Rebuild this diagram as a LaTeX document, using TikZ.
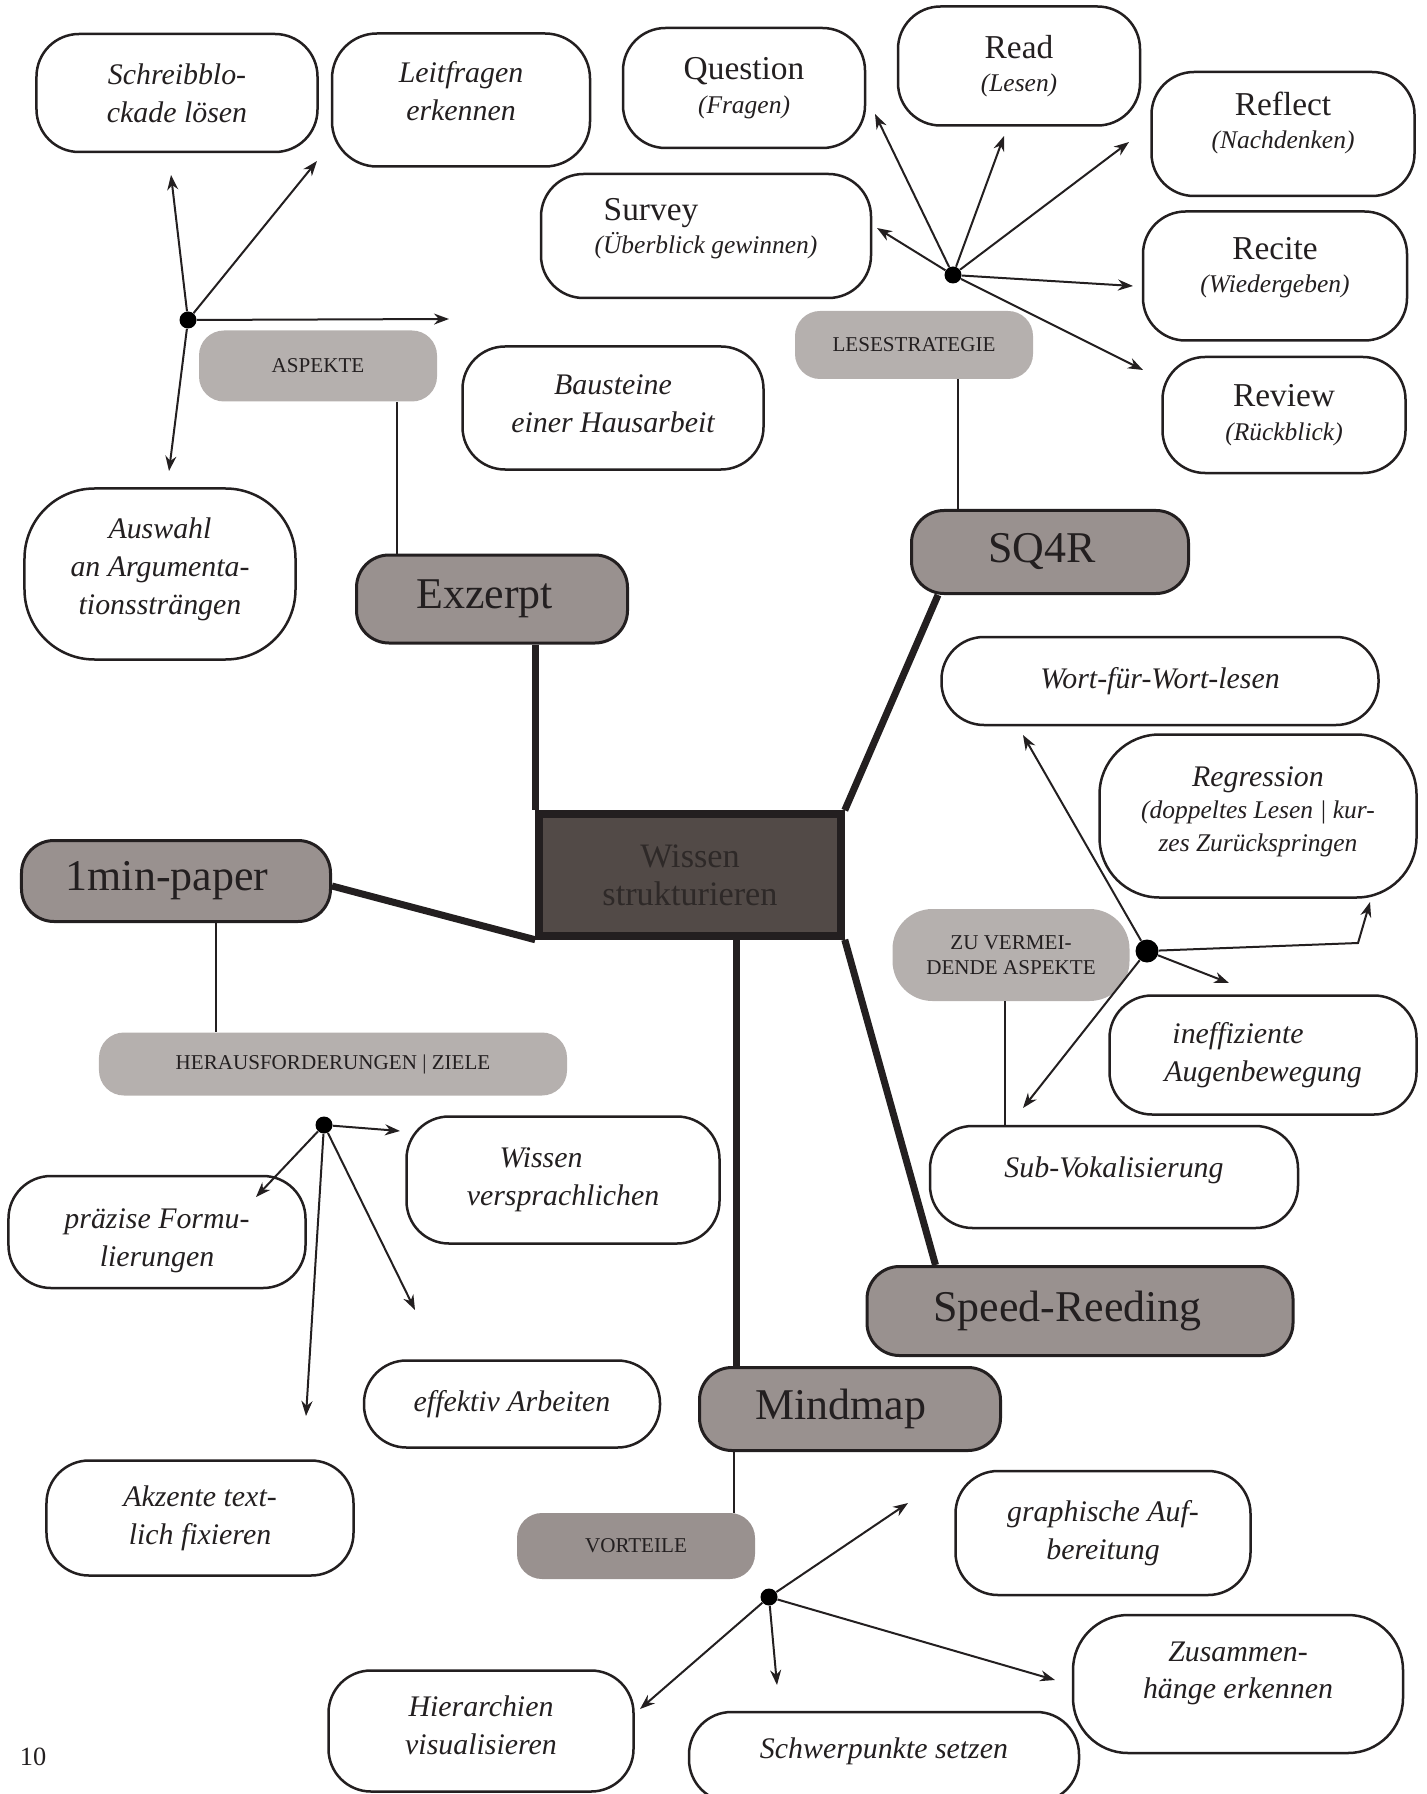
\documentclass[tikz,border=0pt]{standalone}
\usepackage{fontspec}
\setmainfont{Liberation Serif}
\usetikzlibrary{arrows.meta, calc}
\definecolor{mmline}{HTML}{231F20}
\definecolor{mmgray}{HTML}{99918F}
\definecolor{mmlight}{HTML}{B5B0AE}
\definecolor{mmdark}{HTML}{524A47}
\definecolor{mmtext}{HTML}{2E2928}
\newcommand{\gloss}[1]{{\fontsize{14.5}{19}\selectfont\itshape(#1)}}

\begin{document}
\begin{tikzpicture}[
  x=0.2mm, y=-0.2mm,
  every node/.style={text=mmline},
  idea/.style={rectangle, draw=mmline, line width=0.5mm, fill=white, rounded corners=8.5mm, align=center, inner sep=0pt, font=\fontsize{17}{21.5}\selectfont\itshape},
  phase/.style={idea, font=\fontsize{19}{19}\selectfont},
  topic/.style={rectangle, draw=mmline, line width=0.6mm, fill=mmgray, rounded corners=6.5mm, inner sep=0pt, font=\fontsize{25}{25}\selectfont},
  tag/.style={rectangle, fill=mmlight, rounded corners=5mm, inner sep=0pt, align=center, font=\fontsize{12}{14}\selectfont},
  hub/.style={circle, fill=black, inner sep=0pt, minimum size=3.4mm},
  arr/.style={-{Stealth[length=3mm, width=2.2mm]}, line width=0.4mm, draw=mmline},
  link/.style={line width=0.4mm, draw=mmline},
  branch/.style={line width=1.4mm, draw=mmline},
]
\clip (0,0) rectangle (1427,1794);

% Center
\node[draw=mmline, line width=1.5mm, fill=mmdark, minimum width=60.4mm, minimum height=24.4mm, inner sep=0pt, align=center, text=mmtext, font=\fontsize{19.5}{21.5}\selectfont] (wissen) at (690,875) {Wissen\\strukturieren};

% Main topics
\node[topic, minimum width=54.2mm, minimum height=17.6mm] (exzerpt) at (492,599) {Exzerpt\hspace*{3mm}};
\node[topic, minimum width=55.4mm, minimum height=16.6mm] (sq4r) at (1050,552) {SQ4R\hspace*{3.2mm}};
\node[topic, minimum width=61.8mm, minimum height=16.2mm] (paper) at (176,881) {1min-paper\hspace*{3.6mm}};
\node[topic, minimum width=60.2mm, minimum height=16.6mm] (mindmap) at (850,1409) {Mindmap\hspace*{3.6mm}};
\node[topic, minimum width=85.2mm, minimum height=17.8mm] (speed) at (1080,1311) {Speed-Reeding\hspace*{5mm}};

% Branches
\coordinate (mmtop) at ([xshift=7.6mm]mindmap.north west);
\draw[branch] (exzerpt.south -| wissen.north west) -- (wissen.north west);
\draw[branch] ([xshift=5.6mm]sq4r.south west) -- (wissen.north east);
\draw[branch] ([yshift=-1mm]paper.east) -- (wissen.south west);
\draw[branch] (wissen.south -| mmtop) -- (mmtop);
\draw[branch] (wissen.south east) -- ([xshift=14mm]speed.north west);

% Exzerpt
\node[tag, minimum width=47.6mm, minimum height=14.2mm] (aspekte) at (318,366) {ASPEKTE};
\node[hub] (hubB) at (188,320) {};
\node[idea, minimum width=56.2mm, minimum height=23.6mm] (schreib) at (177,93) {Schreibblo-\\ckade lösen};
\node[idea, minimum width=51.6mm, minimum height=26.6mm, rounded corners=9mm, text depth=3.6mm] (leit) at (461,100) {Leitfragen\\erkennen};
\node[idea, minimum width=54.2mm, minimum height=34.2mm, rounded corners=14mm, text depth=3.1mm] (auswahl) at (160,574) {Auswahl\\an Argumenta-\\tionssträngen};
\node[idea, minimum width=60.2mm, minimum height=24.6mm, text depth=1.8mm] (bausteine) at (613,408) {Bausteine\\einer Hausarbeit};
\coordinate (toSchreib) at (171,175);
\coordinate (toLeit) at (317,161);
\coordinate (toBausteine) at (449,319);
\coordinate (toAuswahl) at (169,471);
\coordinate (aspfoot) at ([xshift=-8mm]aspekte.south east);
\draw[link] (aspfoot) -- (aspfoot |- exzerpt.north);
\draw[arr] (hubB) -- (toSchreib);
\draw[arr] (hubB) -- (toLeit);
\draw[arr] (hubB) -- (toBausteine);
\draw[arr] (hubB) -- (toAuswahl);

% SQ4R
\node[tag, minimum width=47.6mm, minimum height=13.6mm] (lesestr) at (914,345) {LESESTRATEGIE};
\node[hub] (hubS) at (953,275) {};
\node[phase, minimum width=48.4mm, minimum height=24mm] (question) at (744,88) {Question\\\gloss{Fragen}};
\node[phase, minimum width=48.4mm, minimum height=23.8mm] (read) at (1019,66) {Read\\\gloss{Lesen}};
\node[phase, minimum width=52.6mm, minimum height=24.8mm, text depth=5.5mm] (reflect) at (1283,134) {Reflect\\\gloss{Nachdenken}};
\node[phase, minimum width=66mm, minimum height=24.8mm, text depth=4.1mm] (survey) at (706,236) {Survey\hspace*{22mm}\\\gloss{Überblick gewinnen}};
\node[phase, minimum width=52.8mm, minimum height=25.8mm, text depth=4.5mm] (recite) at (1275,276) {Recite\\\gloss{Wiedergeben}};
\node[phase, minimum width=48.6mm, minimum height=23.2mm] (review) at (1284,415) {Review\\\gloss{Rückblick}};
\coordinate (toQuestion) at (875,114);
\coordinate (toRead) at (1004,136);
\coordinate (toReflect) at (1129,142);
\coordinate (toSurvey) at (877,228);
\coordinate (toRecite) at (1133,286);
\coordinate (toReview) at (1143,370);
\coordinate (lesfoot) at ([xshift=-15mm]lesestr.south east);
\draw[link] (lesfoot) -- (lesfoot |- sq4r.north);
\draw[arr] (hubS) -- (toQuestion);
\draw[arr] (hubS) -- (toRead);
\draw[arr] (hubS) -- (toReflect);
\draw[arr] (hubS) -- (toSurvey);
\draw[arr] (hubS) -- (toRecite);
\draw[arr] (hubS) -- (toReview);

% 1min-paper
\node[tag, minimum width=93.6mm, minimum height=12.6mm] (herausf) at (333,1064) {HERAUSFORDERUNGEN | ZIELE};
\node[hub] (hubC) at (324,1125) {};
\node[idea, minimum width=62.6mm, minimum height=25.4mm] (wissenv) at (563,1180) {Wissen\hspace*{8.8mm}\\versprachlichen};
\node[idea, minimum width=59.4mm, minimum height=22.4mm] (praezise) at (157,1232) {\rule{0pt}{7.6mm}präzise Formu-\\lierungen};
\node[idea, minimum width=59.2mm, minimum height=17.4mm] (effektiv) at (512,1404) {effektiv Arbeiten};
\node[idea, minimum width=61.4mm, minimum height=23mm] (akzente) at (200,1518) {Akzente text-\\lich fixieren};
\coordinate (toPraezise) at (256,1197);
\coordinate (toWissenv) at (400,1131);
\coordinate (toEffektiv) at (415,1310);
\coordinate (toAkzente) at (306,1416);
\coordinate (paperfoot) at ([xshift=39.2mm]paper.south west);
\draw[link] (paperfoot) -- (paperfoot |- herausf.north);
\draw[arr] (hubC) -- (toPraezise);
\draw[arr] (hubC) -- (toWissenv);
\draw[arr] (hubC) -- (toEffektiv);
\draw[arr] (hubC) -- (toAkzente);

% Speed-Reeding
\node[tag, minimum width=47.4mm, minimum height=18.4mm, rounded corners=8mm] (zuverm) at (1011,955) {ZU VERMEI-\\DENDE ASPEKTE};
\node[hub, minimum size=4.6mm] (hubR) at (1147,951) {};
\node[idea, minimum width=87.4mm, minimum height=17.6mm] (wort) at (1160,681) {Wort-für-Wort-lesen};
\node[idea, minimum width=63.4mm, minimum height=32.6mm, rounded corners=12mm, font=\fontsize{17}{18.5}\selectfont\itshape, text depth=2.9mm] (regression) at (1258,816) {Regression\\{\fontsize{14.5}{18.5}\selectfont(doppeltes Lesen | kur-}\\{\fontsize{14.5}{18.5}\selectfont zes Zurückspringen}};
\node[idea, minimum width=61.4mm, minimum height=23.8mm] (ineff) at (1263,1055) {ineffiziente\hspace*{10mm}\\Augenbewegung};
\node[idea, minimum width=73.6mm, minimum height=20.4mm, text depth=4.1mm] (subvok) at (1114,1177) {Sub-Vokalisierung};
\coordinate (toWort) at (1023,735);
\coordinate (bendR) at (1358,943);
\coordinate (toRegression) at (1370,902);
\coordinate (toIneff) at (1229,983);
\coordinate (toSubvok) at (1023,1108);
\coordinate (zvfoot) at ([xshift=22.6mm]zuverm.south west);
\draw[link] (zvfoot) -- (zvfoot |- subvok.north);
\draw[arr] (hubR) -- (toWort);
\draw[arr] (hubR) -- (bendR) -- (toRegression);
\draw[arr] (hubR) -- (toIneff);
\draw[arr] (hubR) -- (toSubvok);

% Mindmap
\node[tag, fill=mmgray, minimum width=47.6mm, minimum height=13.2mm] (vorteile) at (636,1546) {VORTEILE};
\node[hub] (hubV) at (769,1597) {};
\node[idea, minimum width=59mm, minimum height=24.8mm] (graphisch) at (1103,1533) {graphische Auf-\\bereitung};
\node[idea, minimum width=66mm, minimum height=27.6mm, rounded corners=11mm, text depth=5.5mm] (zusammen) at (1238,1684) {Zusammen-\\hänge erkennen};
\node[idea, minimum width=61mm, minimum height=24.2mm, text depth=2.2mm] (hierarch) at (481,1731) {Hierarchien\\visualisieren};
\node[idea, minimum width=78mm, minimum height=18mm, text depth=3.5mm] (schwer) at (884,1757) {Schwerpunkte setzen};
\coordinate (toGraphisch) at (908,1503);
\coordinate (toHierarch) at (640,1709);
\coordinate (toSchwer) at (777,1685);
\coordinate (toZusammen) at (1055,1680);
\coordinate (mmfoot) at ([xshift=-4.2mm]vorteile.north east);
\draw[link] (mmfoot |- mindmap.south) -- (mmfoot);
\draw[arr] (hubV) -- (toGraphisch);
\draw[arr] (hubV) -- (toHierarch);
\draw[arr] (hubV) -- (toSchwer);
\draw[arr] (hubV) -- (toZusammen);

% Page number
\node[font=\fontsize{15}{15}\selectfont] (pagenum) at (33,1757) {10};

\end{tikzpicture}
\end{document}
